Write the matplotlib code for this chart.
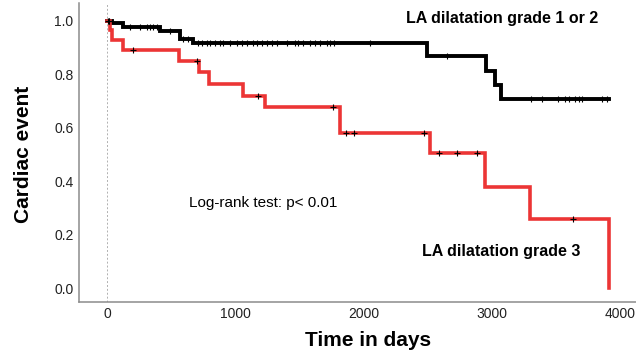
import matplotlib
matplotlib.use("Agg")
import matplotlib.pyplot as plt
import numpy as np

plt.rcParams["font.family"] = ["Liberation Sans", "DejaVu Sans"]

# Kaplan-Meier steps: (time of event, survival after the event)
grade12_times = [0, 34, 125, 411, 567, 670, 2496, 2953, 3019, 3071]
grade12_surv = [1.0, 0.99, 0.975, 0.962, 0.93, 0.917, 0.866, 0.811, 0.758, 0.706]
grade12_end = 3908
grade12_censor = [5, 10, 15, 180, 255, 310, 335, 355, 390, 490, 590, 630,
                  709, 735, 775, 800, 839, 878, 904, 956, 1009, 1047, 1086,
                  1138, 1164, 1203, 1242, 1281, 1320, 1398, 1463, 1489, 1528,
                  1580, 1619, 1658, 1713, 1736, 1764, 2047, 2648, 3302, 3385,
                  3516, 3568, 3595, 3647, 3673, 3699, 3856, 3895]

grade3_times = [0, 20, 37, 125, 561, 717, 795, 1055, 1229, 1814, 2515, 2944, 3295, 3913]
grade3_surv = [1.0, 0.963, 0.926, 0.889, 0.848, 0.808, 0.763, 0.718, 0.678,
               0.579, 0.506, 0.378, 0.257, 0.0]
grade3_end = 3913
grade3_censor = [198, 697, 1175, 1762, 1860, 1923, 2469, 2588, 2728, 2879, 3632]

x_ticks = [0, 1000, 2000, 3000, 4000]
y_ticks = [0.0, 0.2, 0.4, 0.6, 0.8, 1.0]


def step_at(times, surv, t):
    idx = np.searchsorted(times, t, side="right") - 1
    return np.asarray(surv)[idx]


fig = plt.figure(figsize=(6.36, 3.53), dpi=100)
ax = fig.add_axes([79 / 636, 51.3 / 353, 557 / 636, 298.7 / 353])

ax.axvline(0, color="#b0b0b0", lw=0.7, ls=(0, (2, 2)), zorder=0)

for times, surv, end, cens, color, lw in [
    (grade12_times, grade12_surv, grade12_end, grade12_censor, "black", 2.8),
    (grade3_times, grade3_surv, grade3_end, grade3_censor, "#ec3535", 2.6),
]:
    xs = list(times) + [end]
    ys = list(surv) + [surv[-1]]
    ax.step(xs, ys, where="post", color=color, lw=lw, solid_joinstyle="miter", zorder=2)
    ax.plot(cens, step_at(times, surv, cens), "+", color="black", ms=4.5, mew=0.8, zorder=3)

ax.set_xlim(-220, 4121)
ax.set_ylim(-0.05, 1.0654)
ax.set_xticks(x_ticks)
ax.set_yticks(y_ticks)
ax.set_yticklabels([f"{v:.1f}" for v in y_ticks])
ax.tick_params(length=0, labelsize=10, colors="#222222", pad=4)
for side in ["top", "right"]:
    ax.spines[side].set_visible(False)
for side in ["left", "bottom"]:
    ax.spines[side].set_color("#8c8c8c")
    ax.spines[side].set_linewidth(1.1)

ax.text(3081, 1.0075, "LA dilatation grade 1 or 2", ha="center", va="center",
        fontsize=11.5, fontweight="bold")
ax.text(3072, 0.137, "LA dilatation grade 3", ha="center", va="center",
        fontsize=11.5, fontweight="bold")
ax.text(640, 0.317, "Log-rank test: p< 0.01", ha="left", va="center", fontsize=11)

fig.text(23.3 / 636, 1 - 154 / 353, "Cardiac event", rotation=90, ha="center",
         va="center", fontsize=15, fontweight="bold")
fig.text(368 / 636, 1 - 340 / 353, "Time in days", ha="center", va="center",
         fontsize=15, fontweight="bold")

fig.savefig("out.png", dpi=100)
